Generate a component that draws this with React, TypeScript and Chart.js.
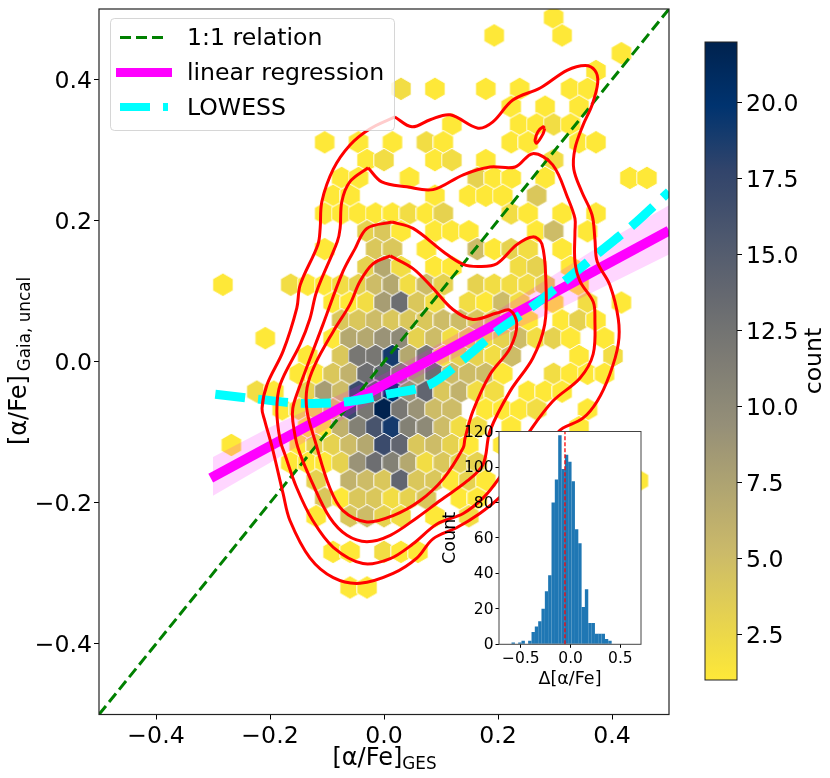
import React, { useEffect, useRef } from "react";
import { Chart, registerables } from "chart.js";

Chart.register(...registerables);

const FONT = "'DejaVu Sans'";
const LABEL_SIZE = 23.6;

// Hexbin cells as [bin row, [bin column, count, bin column, count, ...]]
const hexBinX = 0.014877;
const hexBinY = 0.02524;
const hexOriginY = -0.0675;
const hexRows: [number, number[]][] = [
  [22, [20, 1]],
  [21, [13, 1, 21, 1]],
  [20, [28, 1]],
  [19, [25, 1]],
  [18, [2, 2, 6, 1, 12, 1, 16, 1, 22, 1, 24, 1]],
  [17, [15, 1, 19, 1, 23, 1]],
  [16, [8, 1, 16, 1, 18, 1, 20, 2, 22, 1]],
  [15, [-7, 1, -3, 1, 1, 1, 5, 2, 7, 1, 15, 1, 17, 1, 23, 1, 25, 1]],
  [14, [-2, 1, 0, 2, 6, 1, 8, 2, 12, 1, 20, 2]],
  [13, [-5, 1, -3, 1, 3, 1, 11, 3, 13, 1, 15, 1, 19, 1, 29, 1, 31, 1]],
  [12, [-6, 1, -4, 1, 6, 1, 10, 1, 12, 1, 14, 1, 18, 4]],
  [11, [-7, 1, -5, 1, -3, 1, -1, 1, 1, 1, 3, 2, 5, 1, 7, 3, 15, 2, 17, 1, 21, 1, 25, 1]],
  [10, [-2, 3, 0, 4, 2, 1, 6, 1, 8, 1, 10, 1, 18, 1, 20, 5, 24, 1]],
  [9, [-7, 1, -1, 4, 1, 4, 5, 1, 11, 5, 13, 1, 15, 3, 17, 2, 21, 1]],
  [8, [-2, 3, 0, 7, 2, 2, 6, 1, 8, 1, 16, 2, 18, 3, 22, 1]],
  [7, [-19, 1, -11, 2, -9, 1, -7, 1, -5, 2, -3, 3, -1, 5, 1, 7, 3, 2, 5, 5, 7, 3, 11, 3, 13, 2, 15, 2, 17, 2, 19, 3, 23, 1]],
  [6, [-6, 1, -4, 1, -2, 2, 0, 8, 2, 13, 4, 4, 6, 2, 10, 2, 12, 1, 14, 5, 16, 2, 20, 1, 24, 2, 28, 1]],
  [5, [-5, 4, -3, 4, -1, 5, 1, 4, 3, 4, 5, 4, 7, 5, 9, 5, 11, 4, 13, 4, 15, 3, 17, 1, 21, 1, 23, 3, 25, 1]],
  [4, [-14, 1, -6, 1, -4, 7, -2, 7, 0, 9, 2, 10, 4, 3, 6, 5, 8, 2, 10, 3, 12, 2, 14, 3, 16, 5, 18, 2, 20, 3, 22, 1, 26, 1]],
  [3, [-9, 1, -5, 4, -3, 12, -1, 12, 1, 19, 3, 7, 5, 12, 7, 2, 9, 3, 11, 3, 13, 2, 15, 5, 23, 1, 27, 2]],
  [2, [-10, 1, -8, 1, -6, 4, -4, 6, -2, 13, 0, 14, 2, 11, 4, 8, 6, 13, 8, 5, 10, 5, 12, 5, 14, 1, 20, 2, 22, 1, 24, 1, 26, 1]],
  [1, [-15, 2, -13, 1, -9, 3, -7, 8, -5, 5, -3, 17, -1, 14, 1, 20, 3, 9, 5, 14, 7, 4, 9, 6, 11, 2, 13, 2, 17, 1, 19, 1, 21, 1]],
  [0, [-12, 1, -10, 2, -8, 2, -6, 4, -4, 17, -2, 12, 0, 22, 2, 12, 4, 9, 6, 5, 8, 5, 12, 1, 14, 1, 16, 1, 18, 2, 24, 1]],
  [-1, [-9, 1, -7, 1, -5, 6, -3, 11, -1, 16, 1, 19, 3, 11, 5, 10, 7, 5, 9, 2, 11, 2, 15, 1, 23, 1]],
  [-2, [-18, 1, -10, 1, -8, 3, -6, 3, -4, 5, -2, 7, 0, 17, 2, 14, 4, 4, 6, 5, 8, 3, 10, 1, 14, 1]],
  [-3, [-11, 1, -9, 1, -7, 1, -5, 3, -3, 9, -1, 13, 1, 11, 3, 7, 5, 2, 7, 4, 9, 3, 11, 3]],
  [-4, [-8, 3, -4, 6, -2, 5, 0, 4, 2, 14, 4, 4, 6, 4, 8, 1, 10, 3, 12, 1, 30, 1]],
  [-5, [-7, 4, -5, 1, -3, 4, -1, 4, 1, 2, 3, 3, 5, 4, 9, 1, 11, 1]],
  [-6, [-8, 1, -4, 4, -2, 5, 0, 3, 2, 2, 6, 1, 10, 2]],
  [-8, [-6, 1, -4, 1, 0, 2, 2, 1, 4, 1]],
  [-10, [-4, 1, -2, 1]],
];

// Red density contours
const contour1: number[][] = [
  [0.019, 0.347], [0.049, 0.333], [0.081, 0.343], [0.116, 0.35], [0.165, 0.331], [0.191, 0.34], [0.226, 0.371],
  [0.274, 0.388], [0.321, 0.413], [0.353, 0.42], [0.37, 0.413], [0.375, 0.396], [0.365, 0.364], [0.349, 0.335],
  [0.335, 0.302], [0.333, 0.273], [0.347, 0.241], [0.365, 0.208], [0.37, 0.174], [0.374, 0.142], [0.396, 0.109],
  [0.411, 0.061], [0.411, 0.025], [0.396, -0.018], [0.374, -0.056], [0.349, -0.08], [0.314, -0.094], [0.304, -0.101],
  [0.256, -0.148], [0.202, -0.193], [0.168, -0.215], [0.128, -0.235], [0.086, -0.251], [0.058, -0.278], [0.016, -0.3],
  [-0.042, -0.314], [-0.089, -0.306], [-0.13, -0.278], [-0.165, -0.225], [-0.177, -0.187], [-0.196, -0.122],
  [-0.209, -0.084], [-0.214, -0.066], [-0.205, -0.032], [-0.177, 0.015], [-0.153, 0.076], [-0.147, 0.109],
  [-0.116, 0.166], [-0.112, 0.189], [-0.109, 0.227], [-0.089, 0.273], [-0.06, 0.307], [-0.025, 0.33],
];
const contour2: number[][] = [
  [-0.028, 0.275], [-0.004, 0.255], [0.04, 0.248], [0.086, 0.244], [0.139, 0.265], [0.186, 0.276], [0.23, 0.276],
  [0.261, 0.295], [0.296, 0.279], [0.323, 0.231], [0.335, 0.203], [0.335, 0.184], [0.335, 0.142], [0.344, 0.114],
  [0.367, 0.085], [0.37, 0.061], [0.367, 0.011], [0.344, -0.023], [0.296, -0.056], [0.256, -0.098], [0.202, -0.165],
  [0.174, -0.193], [0.139, -0.215], [0.093, -0.23], [0.051, -0.258], [0.011, -0.279], [-0.037, -0.286], [-0.089, -0.263],
  [-0.125, -0.225], [-0.153, -0.179], [-0.174, -0.131], [-0.182, -0.112], [-0.188, -0.07], [-0.182, -0.032],
  [-0.147, 0.025], [-0.13, 0.061], [-0.118, 0.1], [-0.082, 0.17], [-0.077, 0.189], [-0.074, 0.227], [-0.06, 0.255],
];
const contour3: number[][] = [
  [0.014, 0.198], [0.051, 0.189], [0.104, 0.156], [0.139, 0.138], [0.168, 0.135], [0.198, 0.139], [0.233, 0.166],
  [0.261, 0.177], [0.277, 0.167], [0.284, 0.114], [0.282, 0.053], [0.261, 0.005], [0.221, -0.042], [0.186, -0.098],
  [0.174, -0.145], [0.146, -0.169], [0.098, -0.197], [0.058, -0.221], [0.011, -0.246], [-0.03, -0.255], [-0.065, -0.246],
  [-0.095, -0.221], [-0.125, -0.173], [-0.151, -0.122], [-0.16, -0.084], [-0.16, -0.066], [-0.153, -0.046],
  [-0.107, 0.053], [-0.072, 0.128], [-0.051, 0.16], [-0.03, 0.189],
];
const contour4: number[][] = [
  [0.011, 0.15], [0.051, 0.132], [0.086, 0.104], [0.121, 0.074], [0.156, 0.06], [0.198, 0.069], [0.221, 0.073],
  [0.233, 0.053], [0.221, 0.019], [0.186, -0.018], [0.156, -0.07], [0.142, -0.109], [0.139, -0.122], [0.104, -0.166],
  [0.063, -0.197], [0.016, -0.218], [-0.03, -0.227], [-0.072, -0.211], [-0.095, -0.179], [-0.121, -0.112],
  [-0.135, -0.07], [-0.135, -0.037], [-0.121, -0.004], [-0.089, 0.043], [-0.06, 0.081], [-0.042, 0.114], [-0.019, 0.139],
];
const contour5: number[][] = [
  [0.282, 0.331], [0.279, 0.323], [0.268, 0.31], [0.265, 0.314], [0.27, 0.326], [0.279, 0.333],
];

// Lines
const identityX = [-0.5, 0.5];
const identityY = [-0.5, 0.5];
const regressionX = [-0.304, 0.5];
const regressionY = [-0.165, 0.186];
const bandX = [-0.3, -0.2, -0.1, 0, 0.1, 0.2, 0.3, 0.4, 0.5];
const bandUpper = [-0.135, -0.093, -0.055, -0.017, 0.027, 0.073, 0.124, 0.175, 0.222];
const bandLower = [-0.19, -0.143, -0.095, -0.047, -0.004, 0.035, 0.072, 0.112, 0.152];
const lowessX = [-0.296, -0.221, -0.144, -0.068, 0.007, 0.081, 0.142, 0.198, 0.26, 0.321, 0.379, 0.437, 0.5];
const lowessY = [-0.046, -0.053, -0.059, -0.057, -0.046, -0.032, 0.005, 0.043, 0.078, 0.117, 0.156, 0.194, 0.241];

// Axes and legend
const mainTicks = [-0.4, -0.2, 0, 0.2, 0.4];
const legendLabels = ["1:1 relation", "linear regression", "LOWESS"];
const colorbarTicks = [2.5, 5, 7.5, 10, 12.5, 15, 17.5, 20];
const countMin = 1;
const countMax = 22;

// Inset histogram
const histCenters = [
  -0.577, -0.543, -0.51, -0.477, -0.443, -0.41, -0.376, -0.343, -0.309, -0.276, -0.242, -0.209, -0.175, -0.142, -0.108,
  -0.075, -0.041, -0.008, 0.026, 0.06, 0.093, 0.127, 0.16, 0.194, 0.227, 0.261, 0.294, 0.328, 0.361, 0.395,
];
const histCounts = [1, 0, 1, 2, 0, 2, 7, 10, 13, 20, 30, 39, 80, 93, 118, 99, 107, 103, 92, 65, 57, 21, 31, 12, 12, 6, 6, 6, 3, 2];
const histMean = -0.057;
const histXTicks = [-0.5, 0, 0.5];
const histYTicks = [0, 20, 40, 60, 80, 100, 120];

// cividis, from the top of the colour bar downwards
const cividisStops: [number, number[]][] = [
  [0, [0, 34, 78]],
  [0.1, [0, 51, 111]],
  [0.2, [49, 68, 107]],
  [0.4, [102, 105, 112]],
  [0.6, [149, 143, 120]],
  [0.8, [203, 186, 105]],
  [1, [254, 232, 56]],
];

function cividis(u: number): string {
  for (let i = 1; i < cividisStops.length; i++) {
    const [u1, c1] = cividisStops[i];
    const [u0, c0] = cividisStops[i - 1];
    if (u <= u1) {
      const f = (u - u0) / (u1 - u0);
      return `rgb(${c0.map((c, k) => Math.round(c + (c1[k] - c) * f)).join(",")})`;
    }
  }
  return "rgb(254,232,56)";
}

const countColor = (n: number) => cividis(1 - (n - countMin) / (countMax - countMin));
const pairs = (xs: number[], ys: number[]) => xs.map((x, i) => ({ x, y: ys[i] }));
const closed = (pts: number[][]) => [...pts, pts[0]].map(([x, y]) => ({ x, y }));
const fmt = (v: number, d = 1) => {
  const s = Math.abs(v) < 1e-9 ? (0).toFixed(d) : v.toFixed(d);
  return s.replace("-", "\u2212");
};

const sprites = new Map<number, HTMLCanvasElement>();
function hexSprite(n: number): HTMLCanvasElement {
  const got = sprites.get(n);
  if (got) return got;
  const c = document.createElement("canvas");
  c.width = 22;
  c.height = 28;
  const g = c.getContext("2d")!;
  const R = 11.75;
  g.beginPath();
  for (let i = 0; i < 6; i++) {
    const a = Math.PI / 2 + (i * Math.PI) / 3;
    g.lineTo(11 + R * Math.cos(a), 14 + R * Math.sin(a));
  }
  g.closePath();
  g.fillStyle = countColor(n);
  g.fill();
  g.strokeStyle = "rgba(255,255,255,0.95)";
  g.lineWidth = 1;
  g.stroke();
  sprites.set(n, c);
  return c;
}

function hexPoints() {
  const out: { x: number; y: number; n: number }[] = [];
  for (const [row, cells] of hexRows) {
    for (let i = 0; i < cells.length; i += 2) {
      out.push({ x: cells[i] * hexBinX, y: hexOriginY + row * hexBinY, n: cells[i + 1] });
    }
  }
  return out;
}

const fixTicks = (values: number[]) => (axis: any) => {
  axis.ticks = values.map((value) => ({ value }));
};

const framePlugin = (color: string, width: number) => ({
  id: "frame",
  afterDatasetsDraw(chart: any) {
    const { ctx, chartArea: a } = chart;
    ctx.save();
    ctx.strokeStyle = color;
    ctx.lineWidth = width;
    ctx.strokeRect(a.left, a.top, a.right - a.left, a.bottom - a.top);
    ctx.restore();
  },
});

function drawSubLabel(ctx: any, main: string, sub: string, gap: number) {
  ctx.font = `24px ${FONT}`;
  const w1 = ctx.measureText(main).width;
  ctx.font = `16.8px ${FONT}`;
  const w2 = ctx.measureText(sub).width;
  const left = -(w1 + gap + w2) / 2;
  ctx.textAlign = "left";
  ctx.textBaseline = "alphabetic";
  ctx.fillStyle = "#000";
  ctx.font = `24px ${FONT}`;
  ctx.fillText(main, left, 0);
  ctx.font = `16.8px ${FONT}`;
  ctx.fillText(sub, left + w1 + gap, 4);
}

const mainOverlay = {
  id: "mainOverlay",
  afterDraw(chart: any) {
    const { ctx } = chart;
    ctx.save();
    ctx.translate(384.5, 765);
    drawSubLabel(ctx, "[\u03b1/Fe]", "GES", 0);
    ctx.restore();
    ctx.save();
    ctx.translate(26, 361);
    ctx.rotate(-Math.PI / 2);
    drawSubLabel(ctx, "[\u03b1/Fe]", "Gaia, uncal", 4);
    ctx.restore();

    // Legend
    ctx.save();
    ctx.beginPath();
    ctx.roundRect(110.5, 18.5, 284, 112, 4);
    ctx.fillStyle = "rgba(255,255,255,0.8)";
    ctx.fill();
    ctx.strokeStyle = "rgba(204,204,204,0.8)";
    ctx.lineWidth = 1;
    ctx.stroke();
    const rows = [
      { y: 37.5, color: "#008000", width: 3, dash: [11, 5], x0: 120, x1: 168 },
      { y: 72.5, color: "#ff00ff", width: 9, dash: [], x0: 116, x1: 172 },
      { y: 107, color: "#00ffff", width: 8, dash: [30, 13], x0: 120, x1: 168 },
    ];
    rows.forEach((r, i) => {
      ctx.beginPath();
      ctx.setLineDash(r.dash);
      ctx.strokeStyle = r.color;
      ctx.lineWidth = r.width;
      ctx.moveTo(r.x0, r.y);
      ctx.lineTo(r.x1, r.y);
      ctx.stroke();
      ctx.setLineDash([]);
      ctx.fillStyle = "#000";
      ctx.font = `${LABEL_SIZE}px ${FONT}`;
      ctx.textAlign = "left";
      ctx.textBaseline = "alphabetic";
      ctx.fillText(legendLabels[i], 187, r.y + 7.5);
    });
    ctx.restore();
  },
};

const inkTick = { drawOnChartArea: false, drawTicks: true, tickColor: "#000", tickWidth: 1 };

const whiteArea = {
  id: "whiteArea",
  beforeDraw(chart: any) {
    const { ctx, chartArea: a } = chart;
    ctx.save();
    ctx.fillStyle = "#fff";
    ctx.fillRect(a.left, a.top, a.right - a.left, a.bottom - a.top);
    ctx.restore();
  },
};

const colorbarLabel = {
  id: "colorbarLabel",
  afterDraw(chart: any) {
    const { ctx } = chart;
    ctx.save();
    ctx.translate(821, 361);
    ctx.rotate(-Math.PI / 2);
    ctx.font = `${LABEL_SIZE}px ${FONT}`;
    ctx.textAlign = "center";
    ctx.textBaseline = "alphabetic";
    ctx.fillStyle = "#000";
    ctx.fillText("count", 0, 0);
    ctx.restore();
  },
};

const noEndPadding = (width: number) => (s: any) => {
  s.width = width;
  s.paddingTop = 0;
  s.paddingBottom = 0;
};
const noSidePadding = (height: number) => (s: any) => {
  s.height = height;
  s.paddingLeft = 0;
  s.paddingRight = 0;
};

export default function App() {
  const mainRef = useRef<HTMLCanvasElement>(null);
  const barRef = useRef<HTMLCanvasElement>(null);
  const histRef = useRef<HTMLCanvasElement>(null);

  useEffect(() => {
    const red = (pts: number[][]) => ({
      data: closed(pts),
      showLine: true,
      borderColor: "#ff0000",
      borderWidth: 3,
      tension: 0.35,
      pointRadius: 0,
      fill: false,
      order: 1,
    });
    const main = new Chart(mainRef.current!, {
      type: "scatter",
      data: {
        datasets: [
          {
            data: hexPoints(),
            pointStyle: (c: any) => hexSprite(c.raw ? c.raw.n : 1),
            pointRadius: 8,
            order: 10,
          } as any,
          {
            data: pairs(bandX, bandUpper),
            showLine: true,
            borderWidth: 0,
            pointRadius: 0,
            backgroundColor: "rgba(255,0,255,0.16)",
            fill: "+1",
            order: 9,
          },
          { data: pairs(bandX, bandLower), showLine: true, borderWidth: 0, pointRadius: 0, order: 9 },
          {
            label: legendLabels[0],
            data: pairs(identityX, identityY),
            showLine: true,
            borderColor: "#008000",
            borderWidth: 3,
            borderDash: [11, 5],
            pointRadius: 0,
            order: 8,
          },
          {
            label: legendLabels[1],
            data: pairs(regressionX, regressionY),
            showLine: true,
            borderColor: "#ff00ff",
            borderWidth: 10,
            pointRadius: 0,
            order: 7,
          },
          {
            label: legendLabels[2],
            data: pairs(lowessX, lowessY),
            showLine: true,
            borderColor: "#00ffff",
            borderWidth: 9,
            borderDash: [30, 13],
            tension: 0.3,
            pointRadius: 0,
            order: 6,
          },
          red(contour1),
          red(contour2),
          red(contour3),
          red(contour4),
          red(contour5),
        ],
      },
      options: {
        responsive: false,
        animation: false,
        events: [],
        layout: { padding: { left: 0, top: 6.5, right: 161, bottom: 0 } },
        plugins: { legend: { display: false }, tooltip: { enabled: false } },
        scales: {
          x: {
            type: "linear",
            min: -0.5,
            max: 0.5,
            afterBuildTicks: fixTicks(mainTicks),
            afterFit: noSidePadding(63.5),
            grid: { ...inkTick, tickLength: 5 },
            border: { display: false },
            ticks: {
              autoSkip: false,
              maxRotation: 0,
              padding: 3,
              color: "#000",
              font: { family: FONT, size: LABEL_SIZE },
              callback: (v: any) => fmt(+v),
            },
          },
          y: {
            type: "linear",
            min: -0.5,
            max: 0.5,
            afterBuildTicks: fixTicks(mainTicks),
            afterFit: noEndPadding(99),
            grid: { ...inkTick, tickLength: 5 },
            border: { display: false },
            ticks: {
              autoSkip: false,
              padding: 2,
              labelOffset: 2,
              color: "#000",
              font: { family: FONT, size: LABEL_SIZE },
              callback: (v: any) => fmt(+v),
            },
          },
        },
      },
      plugins: [framePlugin("#222", 1.2), mainOverlay],
    } as any);

    const bar = new Chart(barRef.current!, {
      type: "bar",
      data: {
        labels: ["count"],
        datasets: [
          {
            data: [[countMin, countMax]],
            barPercentage: 1,
            categoryPercentage: 1,
            borderWidth: 0,
            backgroundColor: (c: any) => {
              const a = c.chart.chartArea;
              if (!a) return "#888";
              const g = c.chart.ctx.createLinearGradient(0, a.top, 0, a.bottom);
              for (let i = 0; i <= 20; i++) g.addColorStop(i / 20, cividis(i / 20));
              return g;
            },
          } as any,
        ],
      },
      options: {
        responsive: false,
        animation: false,
        events: [],
        layout: { padding: { left: 705, top: 42, right: 0, bottom: 98 } },
        plugins: { legend: { display: false }, tooltip: { enabled: false } },
        scales: {
          x: { display: false },
          y: {
            position: "right",
            type: "linear",
            min: countMin,
            max: countMax,
            afterBuildTicks: fixTicks(colorbarTicks),
            afterFit: noEndPadding(93),
            grid: { ...inkTick, tickLength: 5 },
            border: { display: false },
            ticks: {
              autoSkip: false,
              padding: 4,
              labelOffset: 2,
              color: "#000",
              font: { family: FONT, size: LABEL_SIZE },
              callback: (v: any) => fmt(+v),
            },
          },
        },
      },
      plugins: [framePlugin("#222", 1), colorbarLabel],
    } as any);

    const hist = new Chart(histRef.current!, {
      type: "bar",
      data: {
        datasets: [
          {
            type: "line",
            data: [
              { x: histMean, y: 0 },
              { x: histMean, y: 120 },
            ],
            borderColor: "#ff0000",
            borderWidth: 1.3,
            borderDash: [4, 2],
            pointRadius: 0,
            order: 1,
          },
          {
            data: pairs(histCenters, histCounts),
            backgroundColor: "#1f77b4",
            borderWidth: 0,
            barPercentage: 1.04,
            categoryPercentage: 1,
            order: 2,
          },
        ],
      } as any,
      options: {
        responsive: false,
        animation: false,
        events: [],
        layout: { padding: { left: 440, top: 431.5, right: 189, bottom: 88.5 } },
        plugins: { legend: { display: false }, tooltip: { enabled: false } },
        scales: {
          x: {
            type: "linear",
            offset: false,
            min: -0.72,
            max: 0.707,
            afterBuildTicks: fixTicks(histXTicks),
            afterFit: noSidePadding(45.2),
            grid: { ...inkTick, tickLength: 3.5, offset: false },
            border: { display: false },
            title: { display: true, text: "\u0394[\u03b1/Fe]", color: "#000", font: { family: FONT, size: 17.5 }, padding: { top: 0, bottom: 0 } },
            ticks: {
              autoSkip: false,
              maxRotation: 0,
              padding: 2,
              color: "#000",
              font: { family: FONT, size: 15.5 },
              callback: (v: any) => fmt(+v),
            },
          },
          y: {
            type: "linear",
            min: 0,
            max: 120.1,
            afterBuildTicks: fixTicks(histYTicks),
            afterFit: noEndPadding(59),
            grid: { ...inkTick, tickLength: 3.5 },
            border: { display: false },
            title: { display: true, text: "Count", color: "#000", font: { family: FONT, size: 17.5 }, padding: { top: 0, bottom: 0 } },
            ticks: {
              autoSkip: false,
              padding: 2,
              labelOffset: 1,
              color: "#000",
              font: { family: FONT, size: 15.5 },
              callback: (v: any) => String(v),
            },
          },
        },
      },
      plugins: [whiteArea, framePlugin("#444", 1)],
    } as any);

    return () => {
      main.destroy();
      bar.destroy();
      hist.destroy();
    };
  }, []);

  const layer: React.CSSProperties = { position: "absolute", left: 0, top: 0 };
  return (
    <div style={{ position: "absolute", left: 0, top: 0, width: 830, height: 778, background: "#fff" }}>
      <canvas ref={mainRef} width={830} height={778} style={layer} />
      <canvas ref={barRef} width={830} height={778} style={layer} />
      <canvas ref={histRef} width={830} height={778} style={layer} />
    </div>
  );
}
